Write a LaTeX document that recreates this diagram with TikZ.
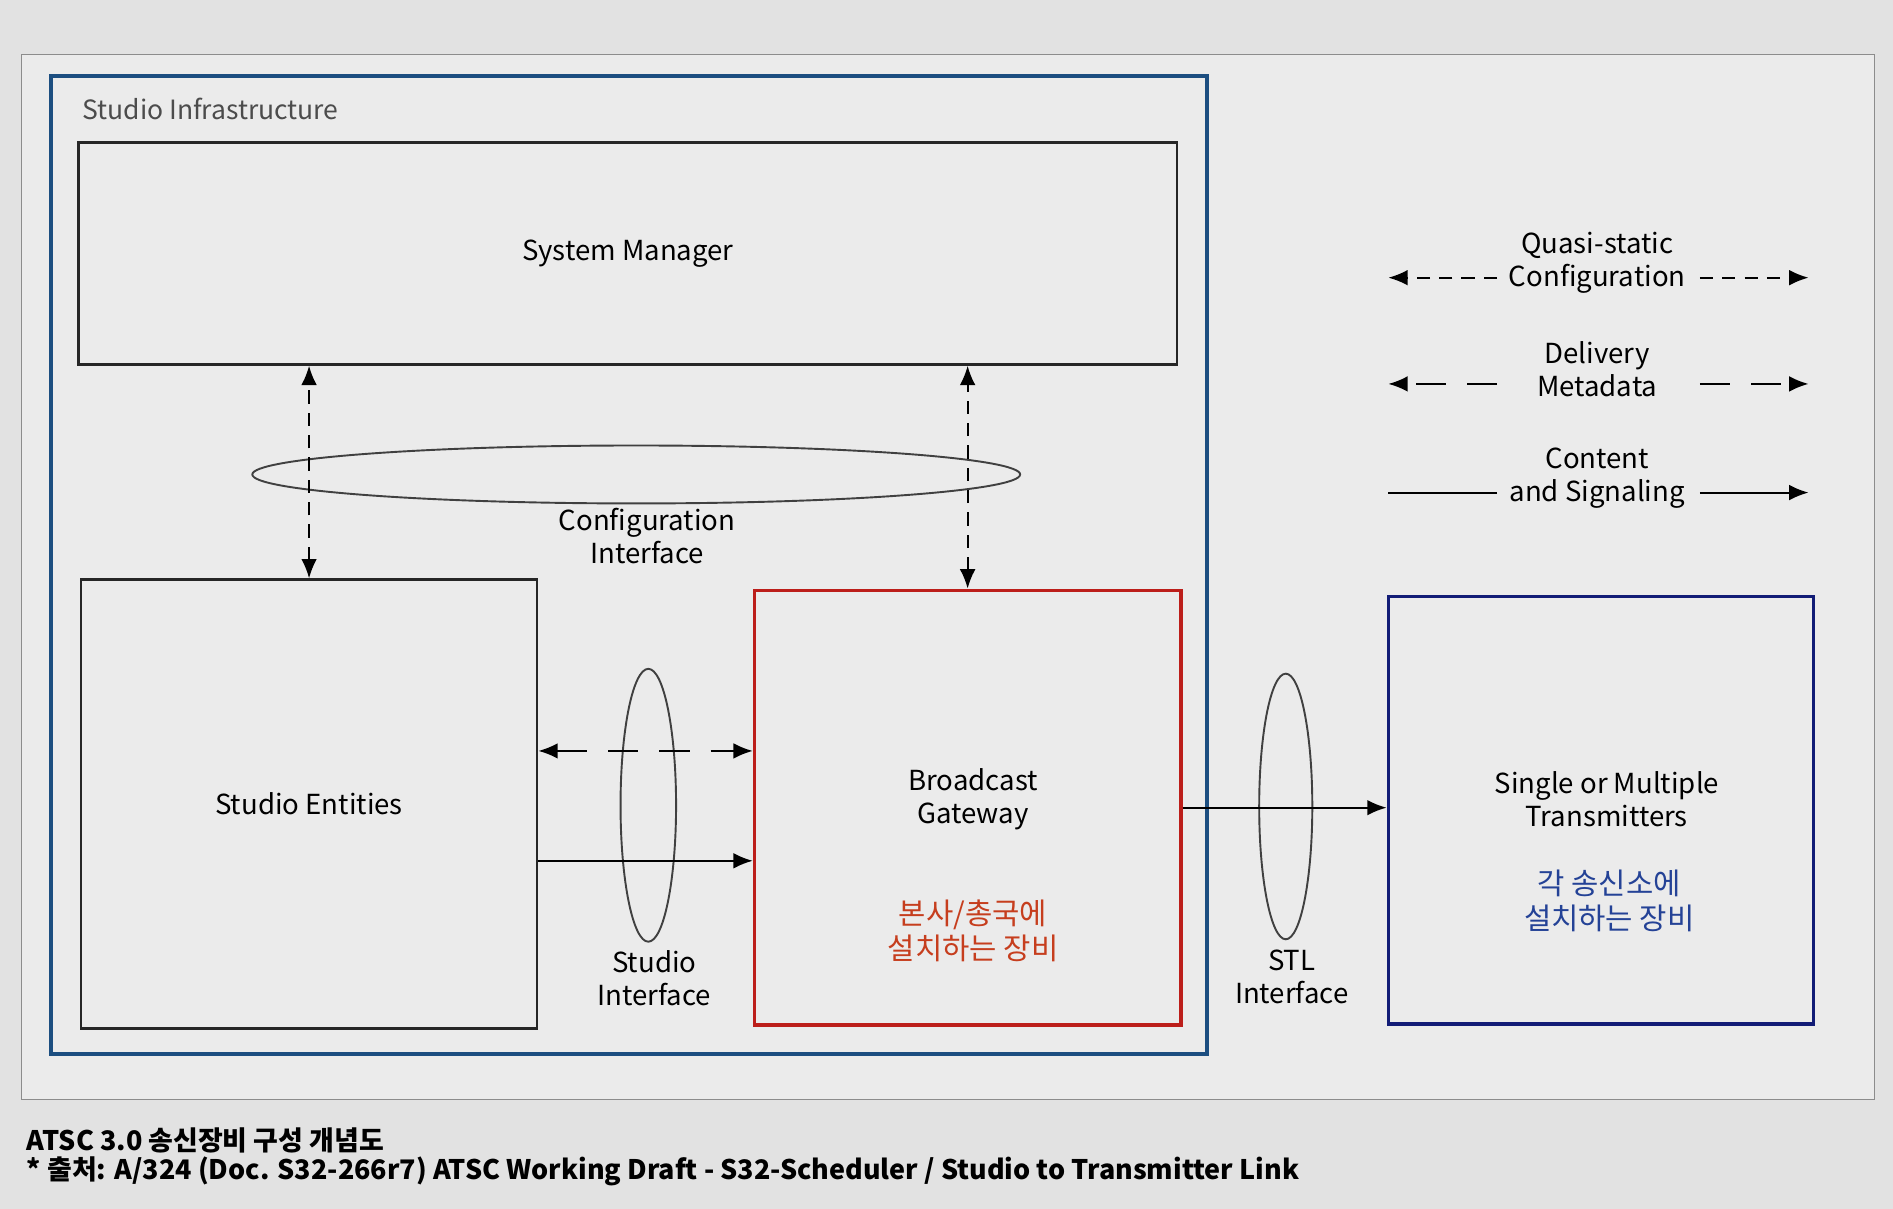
\documentclass[tikz,border=0pt]{standalone}
\usepackage{fontspec}
\setmainfont{Noto Sans CJK KR}
\usetikzlibrary{arrows.meta,shapes.geometric}

\definecolor{pagegray}{RGB}{226,226,226}
\definecolor{panelgray}{RGB}{235,235,235}
\definecolor{infrablue}{RGB}{28,78,128}
\definecolor{gwred}{RGB}{188,30,26}
\definecolor{txnavy}{RGB}{18,28,118}
\definecolor{krred}{RGB}{198,62,30}
\definecolor{krblue}{RGB}{36,66,150}

\tikzset{
  box/.style={draw=black!85, line width=1.1pt, inner sep=0pt, align=center,
    font=\fontsize{13}{15.5}\selectfont},
  iface/.style={draw=black!75, line width=0.9pt, ellipse, inner sep=0pt},
  lbl/.style={align=center, font=\fontsize{13}{15.5}\selectfont},
  krtext/.style={align=center, font=\fontsize{14}{16.5}\selectfont},
  cfg/.style={line width=0.9pt, dash pattern=on 2.2mm off 1.5mm},
  meta/.style={line width=0.9pt, dash pattern=on 5mm off 3.5mm},
  data/.style={line width=0.9pt},
  endarrow/.style={-{Latex[length=3.2mm,width=2.6mm]}},
  bothends/.style={{Latex[length=3.2mm,width=2.6mm]}-{Latex[length=3.2mm,width=2.6mm]}}
}

\begin{document}
\begin{tikzpicture}[x=0.2mm,y=-0.2mm]
    \useasboundingbox (0,0) rectangle (1568,1001);
    \fill[pagegray] (0,0) rectangle (1568,1001);
    \filldraw[fill=panelgray, draw=black!45, line width=0.4pt] (18,45) rectangle (1553,911);

    % studio side
    \node (infra) [draw=infrablue, line width=1.8pt, minimum width=191.6mm, minimum height=162mm] at (521,468) {};
    \node (infralbl) [anchor=west, text=black!70, font=\fontsize{12.5}{15}\selectfont] at (62,90) {Studio Infrastructure};
    \node (sysmgr) [box, minimum width=182mm, minimum height=36.8mm] at (520,210) {System Manager};
    \node (entities) [box, minimum width=75.6mm, minimum height=74.4mm] at (256,666) {Studio Entities};
    \node (gateway) [box, draw=gwred, line width=1.7pt, minimum width=70.6mm, minimum height=72mm] at (801.5,669) {};
    \node (gwname) [lbl] at (806,662) {Broadcast\\Gateway};
    \node (gwkr) [krtext, text=krred] at (806,771) {본사/총국에\\설치하는 장비};

    % transmitter side
    \node (tx) [box, draw=txnavy, line width=1.7pt, minimum width=70.4mm, minimum height=70.8mm] at (1326,671) {};
    \node (txname) [lbl] at (1331,662) {Single or Multiple\\Transmitters};
    \node (txkr) [krtext, text=krblue] at (1333,746) {각 송신소에\\설치하는 장비};

    % interfaces
    \node (cfgif) [iface, minimum width=127.2mm, minimum height=9.6mm] at (527,393) {};
    \node (cfglbl) [lbl] at (536,444) {Configuration\\Interface};
    \node (studioif) [iface, minimum width=9.2mm, minimum height=45.2mm] at (537,667) {};
    \node (studiolbl) [lbl] at (542,810) {Studio\\Interface};
    \node (stlif) [iface, minimum width=8.8mm, minimum height=44mm] at (1065,668) {};
    \node (stllbl) [lbl] at (1070,809) {STL\\Interface};

    % connectors
    \draw[cfg, bothends] (entities.north) -- (entities.north |- sysmgr.south);
    \draw[cfg, bothends] (gateway.north) -- (gateway.north |- sysmgr.south);
    \draw[meta, bothends] ([yshift=8.8mm]entities.east) -- ([yshift=8.8mm]entities.east -| gateway.west);
    \draw[data, endarrow] ([yshift=-9.4mm]entities.east) -- ([yshift=-9.4mm]entities.east -| gateway.west);
    \draw[data, endarrow] (gateway.east) -- (gateway.east -| tx.west);

    % legend
    \node (qslbl) [lbl] at (1323,218) {Quasi-static\\Configuration};
    \node (dmlbl) [lbl] at (1323,306) {Delivery\\Metadata};
    \node (cslbl) [lbl] at (1323,396) {Content\\and Signaling};
    \draw[cfg, endarrow] ([shift={(-16.6mm,-2.4mm)}]qslbl.center) -- ++(-90,0);
    \draw[cfg, endarrow] ([shift={(17mm,-2.4mm)}]qslbl.center) -- ++(90,0);
    \draw[meta, endarrow] ([shift={(-16.6mm,-2.4mm)}]dmlbl.center) -- ++(-90,0);
    \draw[meta, endarrow] ([shift={(17mm,-2.4mm)}]dmlbl.center) -- ++(90,0);
    \draw[data] ([shift={(-16.6mm,-2.4mm)}]cslbl.center) -- ++(-90,0);
    \draw[data, endarrow] ([shift={(17mm,-2.4mm)}]cslbl.center) -- ++(90,0);

    % caption
    \node (cap1) [anchor=west, font=\bfseries\fontsize{12.7}{15}\selectfont] at (16,945) {ATSC 3.0 송신장비 구성 개념도};
    \node (cap2) [anchor=west, font=\bfseries\fontsize{12.7}{15}\selectfont] at (16,970) {* 출처: A/324 (Doc. S32-266r7) ATSC Working Draft - S32-Scheduler / Studio to Transmitter Link};
\end{tikzpicture}
\end{document}
